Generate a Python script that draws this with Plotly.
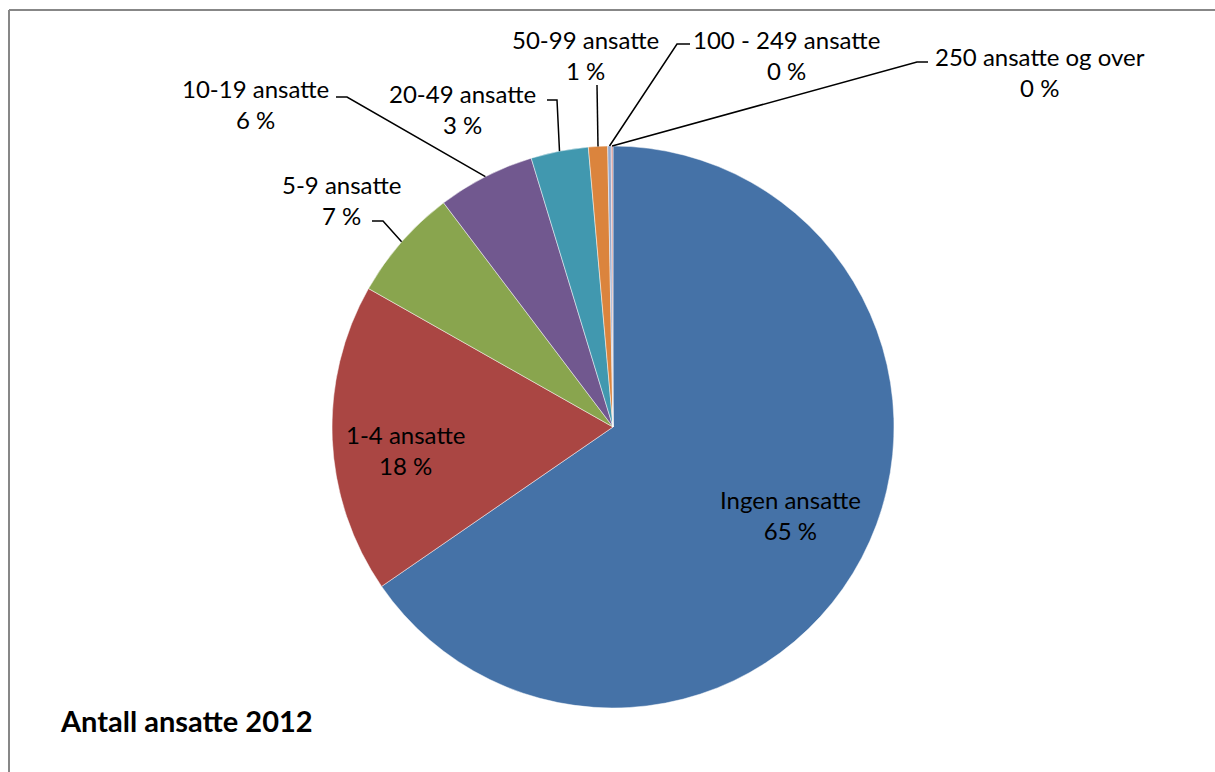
import math
import plotly.graph_objects as go

# ---- data ----
categories = ["Ingen ansatte", "1-4 ansatte", "5-9 ansatte", "10-19 ansatte",
              "20-49 ansatte", "50-99 ansatte", "100 - 249 ansatte", "250 ansatte og over"]
values = [65.4, 17.8, 6.5, 5.6, 3.3, 1.1, 0.2, 0.1]
colors = ["#4572A7", "#AA4643", "#89A54E", "#71588F",
          "#4198AF", "#DB843D", "#93A9CF", "#D19392"]
title_text = "Antall ansatte 2012"

# ---- layout constants (page pixels) ----
W, H = 1215, 772
CX, CY, R = 613, 427, 281
FONT = "Lato, Calibri, Carlito, sans-serif"
FS = 24

# label centre positions and leader elbows (label side first)
label_pos = {
    "Ingen ansatte": (790, 515),
    "1-4 ansatte": (405, 450),
    "5-9 ansatte": (341, 200),
    "10-19 ansatte": (255, 104),
    "20-49 ansatte": (462, 109),
    "50-99 ansatte": (585, 55),
    "100 - 249 ansatte": (786, 55),
    "250 ansatte og over": (1040, 72),
}
leaders = {
    "5-9 ansatte": [(372, 221), (383, 221)],
    "10-19 ansatte": [(336, 97), (347, 97)],
    "20-49 ansatte": [(547, 100), (557, 100)],
    "50-99 ansatte": [(597, 85)],
    "100 - 249 ansatte": [(690, 44), (677, 44)],
    "250 ansatte og over": [(928, 62), (917, 62)],
}

total = sum(values)


def pct_text(v):
    return f"{int(math.floor(v / total * 100 + 0.5))} %"


fig = go.Figure()
fig.add_trace(go.Pie(
    labels=categories, values=values, sort=False, direction="clockwise",
    rotation=0, textinfo="none", hoverinfo="label+percent",
    marker=dict(colors=colors, line=dict(color="rgba(255,255,255,0.6)", width=0.8)),
    showlegend=False,
    domain=dict(x=[(CX - R) / W, (CX + R) / W],
                y=[1 - (CY + R) / H, 1 - (CY - R) / H]),
))

shapes = []
annotations = []
cum = 0.0
for cat, v in zip(categories, values):
    mid = (cum + v / 2) / total * 2 * math.pi
    cum += v
    ax = CX + R * math.sin(mid)
    ay = CY - R * math.cos(mid)
    lx, ly = label_pos[cat]
    annotations.append(dict(
        x=lx, y=ly, xref="x", yref="y", text=f"{cat}<br>{pct_text(v)}",
        showarrow=False, align="center", xanchor="center", yanchor="middle",
        font=dict(family=FONT, size=FS, color="#000000"),
    ))
    if cat in leaders:
        pts = leaders[cat] + [(ax, ay)]
        path = "M " + " L ".join(f"{px:.1f},{py:.1f}" for px, py in pts)
        shapes.append(dict(type="path", path=path, xref="x", yref="y",
                           line=dict(color="#000000", width=1.5)))

annotations.append(dict(
    x=58, y=720, xref="x", yref="y", text=f"<b>{title_text}</b>", showarrow=False,
    xanchor="left", yanchor="middle", font=dict(family=FONT, size=29, color="#000000"),
))

# chart border: only left and top edges fall inside the picture
shapes.append(dict(type="line", xref="x", yref="y", x0=9, y0=10, x1=9, y1=H + 5,
                   line=dict(color="#878787", width=2)))
shapes.append(dict(type="line", xref="x", yref="y", x0=9, y0=10, x1=W + 5, y1=10,
                   line=dict(color="#878787", width=2)))

fig.update_layout(
    width=W, height=H, margin=dict(l=0, r=0, t=0, b=0),
    paper_bgcolor="white", plot_bgcolor="rgba(0,0,0,0)",
    xaxis=dict(range=[0, W], visible=False, fixedrange=True),
    yaxis=dict(range=[H, 0], visible=False, fixedrange=True),
    shapes=shapes, annotations=annotations,
)

fig.write_html(
    "out.html",
    config={"displayModeBar": False},
    post_script=("document.body.style.margin='0';"
                 "document.body.style.overflow='hidden';"
                 "document.documentElement.style.overflow='hidden';"),
)
